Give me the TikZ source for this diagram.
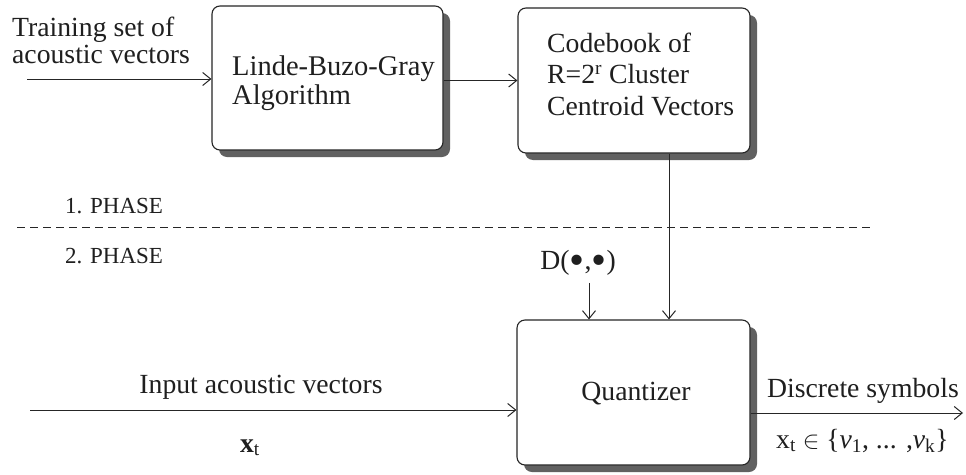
\documentclass[tikz,border=0pt]{standalone}
\usepackage{fontspec}
\setmainfont{Liberation Serif}
\usetikzlibrary{arrows.meta,shadows}

% enlarged bullet for the argument placeholders
\newcommand\argdot{\raisebox{-0.17em}{\scalebox{1.55}{•}}}

\begin{document}
\begin{tikzpicture}[x=1pt,y=-1pt,
  ink/.style={black!85},
  blk/.style={draw=black!85, line width=1.1pt, rounded corners=8pt, fill=white,
    drop shadow={shadow xshift=7pt, shadow yshift=-7pt, fill=black!62, opacity=1}},
  txt/.style={inner sep=0pt, text=black!88, font=\fontsize{27.7}{28.5}\selectfont},
  phase/.style={inner sep=0pt, text=black!88, font=\fontsize{23}{25}\selectfont},
  conn/.style={draw=black!85, line width=1pt,
    -{Straight Barb[length=8pt,width=13pt,line width=1pt]}}]

\useasboundingbox (0,0) rectangle (966,474);
\fill[white] (0,0) rectangle (966,474);

% processing blocks
\node[blk, minimum width=231pt, minimum height=144pt] (lbg) at (327.5,78) {};
\node[blk, minimum width=232pt, minimum height=145pt] (cb) at (634,80.5) {};
\node[blk, minimum width=233pt, minimum height=145pt] (qz) at (633.5,392.5) {};

% block captions (base anchor = baseline of the last line)
\node[txt, anchor=base west, align=left, font=\fontsize{28.5}{29}\selectfont] (lbgtxt) at (232,104)
  {Linde-Buzo-Gray\\Algorithm};
\node[txt, anchor=base west, align=left, font=\fontsize{27.7}{31.5}\selectfont] (cbtxt) at (547,115)
  {Codebook of\\R=2\textsuperscript{r} Cluster\\Centroid Vectors};
\node[txt, anchor=base] (qztxt) at (636,400) {Quantizer};

% training input
\node[txt, anchor=base west, align=left, font=\fontsize{27.7}{26.5}\selectfont] (train) at (12,63)
  {Training set of\\acoustic vectors};
\coordinate (trs) at (27,79);
\draw[conn] (trs) -- (trs -| lbg.west);

% LBG -> codebook -> quantizer
\draw[conn] (lbg.east |- cb.west) -- (cb.west);
\draw[conn] ([xshift=35pt]cb.south) -- ([xshift=35pt]cb.south |- qz.north);

% phase separator
\coordinate (dl) at (17,227);
\coordinate (dr) at (872,227);
\draw[ink, line width=1pt, dash pattern=on 8pt off 5pt] (dl) -- (dr);
\node[phase, anchor=base west] (p1) at (65,213) {1. PHASE};
\node[phase, anchor=base west] (p2) at (65,263) {2. PHASE};

% distance measure
\node[txt] (dist) at (578,263) {D(\argdot,\argdot)};
\draw[conn] ([xshift=11pt,yshift=-7pt]dist.south) -- ([xshift=11pt]dist.south |- qz.north);

% quantizer input
\coordinate (inp) at (30,410);
\draw[conn] (inp) -- (inp -| qz.west);
\node[txt, anchor=base] (inlbl) at (261,393) {Input acoustic vectors};
\node[txt, anchor=base] (xt) at (250,452) {\textbf{x}\textsubscript{t}};

% quantizer output
\coordinate (outend) at (963,413);
\draw[conn] (qz.east |- outend) -- (outend);
\node[txt, anchor=base west] (outlbl) at (767,397) {Discrete symbols};
\node[txt, anchor=base west] (symset) at (776,448)
  {x\textsubscript{t} $\in$ \{\textit{ν}\textsubscript{1}, ... ,\textit{ν}\textsubscript{k}\}};

\end{tikzpicture}
\end{document}
